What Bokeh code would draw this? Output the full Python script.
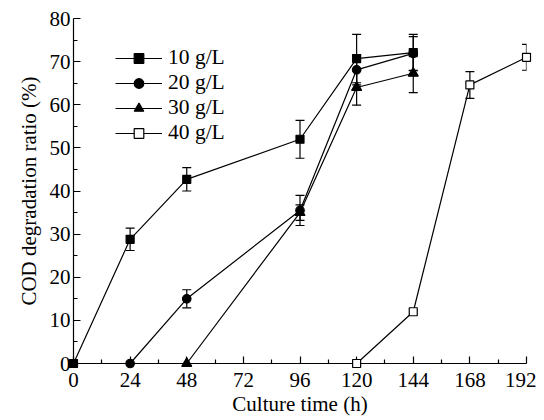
from bokeh.plotting import figure
from bokeh.models import (ColumnDataSource, Range1d, FixedTicker, Legend, LegendItem,
                          Whisker, TeeHead)
from bokeh.embed import file_html
from bokeh.resources import INLINE

# ---- data ----
x_ticks = [0, 24, 48, 72, 96, 120, 144, 168, 192]
y_ticks = [0, 10, 20, 30, 40, 50, 60, 70, 80]

names = ["10 g/L", "20 g/L", "30 g/L", "40 g/L"]

t10 = [0, 24, 48, 96, 120, 144]
v10 = [0, 28.8, 42.7, 52.0, 70.7, 72.1]
e10 = [0, 2.6, 2.7, 4.4, 5.6, 4.2]

t20 = [24, 48, 96, 120, 144]
v20 = [0, 15.0, 35.5, 68.1, 71.9]
e20 = [0, 2.1, 3.5, 3.5, 3.9]

t30 = [48, 96, 120, 144]
v30 = [0, 35.0, 64.0, 67.3]
e30 = [0, 1.8, 4.1, 4.5]

t40 = [120, 144, 168, 192]
v40 = [0, 12.0, 64.6, 71.0]
e40 = [0, 0, 3.1, 3.0]

FONT = "Liberation Serif"

p = figure(frame_width=453, frame_height=345, output_backend="svg", toolbar_location=None,
           x_range=Range1d(0, 192), y_range=Range1d(0, 80),
           min_border_left=73, min_border_right=10, min_border_top=18, min_border_bottom=0)
p.outline_line_color = None
p.xgrid.visible = False
p.ygrid.visible = False

minor_x = [(a + b) / 2 for a, b in zip(x_ticks[:-1], x_ticks[1:])]
minor_y = [(a + b) / 2 for a, b in zip(y_ticks[:-1], y_ticks[1:])]
p.xaxis.ticker = FixedTicker(ticks=x_ticks, minor_ticks=minor_x)
p.yaxis.ticker = FixedTicker(ticks=y_ticks, minor_ticks=minor_y)

for ax in (p.xaxis, p.yaxis):
    ax.axis_line_color = "black"
    ax.axis_line_width = 1.2
    ax.major_tick_in = 7
    ax.major_tick_out = 0
    ax.minor_tick_in = 4
    ax.minor_tick_out = 0
    ax.major_tick_line_width = 1.2
    ax.minor_tick_line_width = 1.2
    ax.major_label_text_font = FONT
    ax.major_label_text_font_size = "21px"
    ax.major_label_text_color = "black"
    ax.axis_label_text_font = FONT
    ax.axis_label_text_font_size = "21px"
    ax.axis_label_text_font_style = "normal"
    ax.axis_label_text_color = "black"

p.xaxis.axis_label = "Culture time (h)"
p.yaxis.axis_label = "COD degradation ratio (%)"
p.xaxis.major_label_standoff = 9
p.xaxis.axis_label_standoff = 2
p.yaxis.major_label_standoff = 3
p.yaxis.axis_label_standoff = 6

series = [
    (t10, v10, e10, "square", 8, "black"),
    (t20, v20, e20, "circle", 8.5, "black"),
    (t30, v30, e30, "triangle", 10, "black"),
    (t40, v40, e40, "square", 8, "white"),
]

items = []
for (t, v, e, marker, size, fill), name in zip(series, names):
    src = ColumnDataSource(dict(x=t, y=v))
    wt = [ti for ti, ei in zip(t, e) if ei > 0]
    wu = [vi + ei for vi, ei in zip(v, e) if ei > 0]
    wl = [vi - ei for vi, ei in zip(v, e) if ei > 0]
    wsrc = ColumnDataSource(dict(base=wt, upper=wu, lower=wl))
    w = Whisker(source=wsrc, base="base", upper="upper", lower="lower", dimension="height",
                line_color="black", line_width=1.2,
                upper_head=TeeHead(size=9, line_color="black", line_width=1.2),
                lower_head=TeeHead(size=9, line_color="black", line_width=1.2))
    p.add_layout(w)
    ln = p.line("x", "y", source=src, line_color="black", line_width=1.2, level="overlay")
    sc = p.scatter("x", "y", source=src, marker=marker, size=size, fill_color=fill,
                   line_color="black", line_width=1.2, level="overlay")
    items.append(LegendItem(label=name, renderers=[ln, sc]))

legend = Legend(items=items, location=(42, 218), padding=0, margin=0, spacing=0,
                glyph_width=47, glyph_height=24, label_height=24, label_standoff=6,
                border_line_color=None, background_fill_alpha=0,
                label_text_font=FONT, label_text_font_size="21.5px", label_text_color="black")
p.add_layout(legend)

open("out.html", "w").write(file_html(p, INLINE))
